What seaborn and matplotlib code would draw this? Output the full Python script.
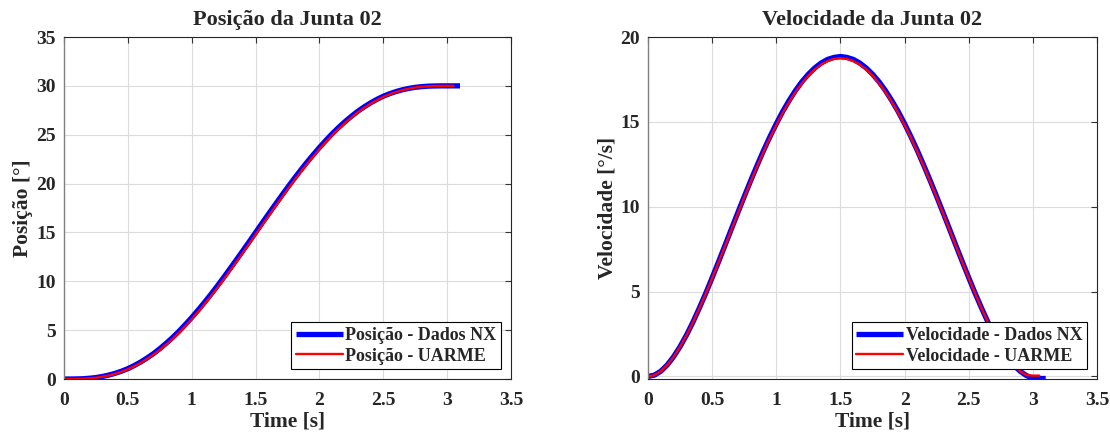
import matplotlib
matplotlib.use("Agg")
import matplotlib.pyplot as plt
import seaborn as sns

# time samples [s]
t_nx = [0.0, 0.05, 0.1, 0.15, 0.2, 0.25, 0.3, 0.35, 0.4, 0.45, 0.5, 0.55, 0.6, 0.65, 0.7, 0.75,
        0.8, 0.85, 0.9, 0.95, 1.0, 1.05, 1.1, 1.15, 1.2, 1.25, 1.3, 1.35, 1.4, 1.45, 1.5, 1.55,
        1.6, 1.65, 1.7, 1.75, 1.8, 1.85, 1.9, 1.95, 2.0, 2.05, 2.1, 2.15, 2.2, 2.25, 2.3, 2.35,
        2.4, 2.45, 2.5, 2.55, 2.6, 2.65, 2.7, 2.75, 2.8, 2.85, 2.9, 2.95, 3.0, 3.05, 3.1]
t_uarme = t_nx[:-1]  # UARME run stops at 3.05 s

# position [deg]
pos_nx = [0.0, 0.0, 0.01, 0.03, 0.08, 0.15, 0.26, 0.40, 0.58, 0.80, 1.06, 1.38, 1.74, 2.15, 2.60,
          3.11, 3.66, 4.25, 4.89, 5.58, 6.30, 7.06, 7.85, 8.67, 9.52, 10.40, 11.30, 12.21, 13.13,
          14.06, 15.00, 15.94, 16.87, 17.79, 18.70, 19.60, 20.48, 21.33, 22.15, 22.94, 23.70,
          24.42, 25.11, 25.75, 26.34, 26.89, 27.40, 27.85, 28.26, 28.62, 28.94, 29.20, 29.42,
          29.60, 29.74, 29.85, 29.92, 29.97, 29.99, 30.0, 30.0, 30.0, 30.0]
pos_uarme = [0.0, 0.0, 0.01, 0.03, 0.07, 0.13, 0.23, 0.36, 0.53, 0.74, 1.00, 1.30, 1.65, 2.05,
             2.49, 2.98, 3.52, 4.10, 4.73, 5.41, 6.12, 6.87, 7.66, 8.47, 9.31, 10.19, 11.08,
             11.99, 12.91, 13.84, 14.78, 15.72, 16.65, 17.57, 18.48, 19.39, 20.27, 21.13, 21.96,
             22.75, 23.52, 24.25, 24.95, 25.60, 26.20, 26.76, 27.28, 27.75, 28.17, 28.54, 28.87,
             29.14, 29.37, 29.56, 29.71, 29.83, 29.91, 29.96, 29.99, 30.0, 30.0, 30.0]

# velocity [deg/s]
vel_nx = [0.0, 0.08, 0.31, 0.68, 1.17, 1.76, 2.44, 3.20, 4.03, 4.90, 5.82, 6.76, 7.72, 8.69, 9.65,
          10.60, 11.53, 12.43, 13.30, 14.12, 14.89, 15.61, 16.26, 16.85, 17.37, 17.81, 18.18,
          18.47, 18.68, 18.80, 18.85, 18.80, 18.68, 18.47, 18.18, 17.81, 17.37, 16.85, 16.26,
          15.61, 14.89, 14.12, 13.30, 12.43, 11.53, 10.60, 9.65, 8.69, 7.72, 6.76, 5.82, 4.90,
          4.03, 3.20, 2.44, 1.76, 1.17, 0.68, 0.31, 0.05, -0.10, -0.12, -0.12]
vel_uarme = [0.0, 0.08, 0.31, 0.68, 1.16, 1.75, 2.43, 3.19, 4.01, 4.88, 5.79, 6.73, 7.68, 8.64,
             9.60, 10.55, 11.47, 12.37, 13.23, 14.05, 14.81, 15.53, 16.18, 16.76, 17.28, 17.72,
             18.09, 18.38, 18.58, 18.71, 18.75, 18.71, 18.58, 18.38, 18.09, 17.72, 17.28, 16.76,
             16.18, 15.53, 14.81, 14.05, 13.23, 12.37, 11.47, 10.55, 9.60, 8.64, 7.68, 6.73, 5.79,
             4.88, 4.01, 3.19, 2.43, 1.75, 1.16, 0.68, 0.31, 0.08, 0.05, 0.05]

sns.set_style("whitegrid")
plt.rcParams['font.family'] = ['Liberation Serif', 'DejaVu Serif']
plt.rcParams['font.weight'] = 'bold'

fig = plt.figure(figsize=(11.1, 4.37), dpi=100)
ax1 = fig.add_axes([0.0577, 0.1327, 0.4027, 0.7826])
ax2 = fig.add_axes([0.5838, 0.1327, 0.4045, 0.7826])

panels = [
    (ax1, pos_nx, pos_uarme, 'Posição da Junta 02', 'Posição [°]', 'Posição', (0, 35), [0, 5, 10, 15, 20, 25, 30, 35]),
    (ax2, vel_nx, vel_uarme, 'Velocidade da Junta 02', 'Velocidade [°/s]', 'Velocidade', (-0.15, 20), [0, 5, 10, 15, 20]),
]

for ax, y_nx, y_ua, title, ylabel, name, ylim, yticks in panels:
    sns.lineplot(x=t_nx, y=y_nx, ax=ax, color='#0000ff', linewidth=3.8,
                 label=f'{name} - Dados NX', solid_capstyle='butt')
    sns.lineplot(x=t_uarme, y=y_ua, ax=ax, color='#ff0000', linewidth=1.7,
                 label=f'{name} - UARME')
    ax.set_xlim(0, 3.5)
    ax.set_ylim(*ylim)
    ax.set_xticks([0, 0.5, 1, 1.5, 2, 2.5, 3, 3.5])
    ax.set_xticklabels(['0', '0.5', '1', '1.5', '2', '2.5', '3', '3.5'])
    ax.set_yticks(yticks)
    ax.set_title(title, fontsize=16, fontweight='bold', pad=9)
    ax.set_xlabel('Time [s]', fontsize=15.5, fontweight='bold', labelpad=2)
    ax.set_ylabel(ylabel, fontsize=15.5, fontweight='bold', labelpad=2)
    ax.grid(True, color='#dcdcdc', linewidth=0.8)
    ax.tick_params(direction='in', length=4, width=0.8, labelsize=14, color='#333333',
                   top=True, right=True)
    ax.tick_params(axis='x', pad=9)
    ax.tick_params(axis='y', pad=6)
    for lab in ax.get_xticklabels() + ax.get_yticklabels():
        lab.set_fontweight('bold')
        lab.set_color('#262626')
    for side in ['top', 'right', 'bottom']:
        ax.spines[side].set_color('#262626')
        ax.spines[side].set_linewidth(0.8)
    ax.spines['left'].set_color('#808080')
    ax.spines['left'].set_linewidth(1.0)
    leg = ax.legend(loc='lower right', fontsize=13, frameon=True, fancybox=False,
                    edgecolor='black', framealpha=1, handlelength=2.6, handletextpad=0.15,
                    borderpad=0.25, labelspacing=0.2, borderaxespad=0.55)
    leg.get_frame().set_linewidth(0.8)
    for txt in leg.get_texts():
        txt.set_fontweight('bold')

fig.savefig('out.png', dpi=100)
